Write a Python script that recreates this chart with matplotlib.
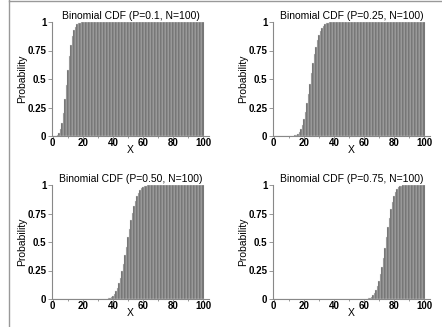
import matplotlib
matplotlib.use("Agg")
import matplotlib.pyplot as plt
from matplotlib.lines import Line2D
import numpy as np

plt.rcParams['font.family'] = ['Liberation Sans', 'DejaVu Sans']

# x values 0..100
x_vals = np.arange(0, 101)

# CDF values (zeros below the rise, ones above it)
cdf_p10 = ([0.0, 0.0003, 0.002, 0.008, 0.024, 0.058, 0.117, 0.206, 0.321, 0.451,
            0.583, 0.703, 0.802, 0.876, 0.927, 0.960, 0.979, 0.990, 0.995, 0.998, 0.999]
           + [1.0] * 80)
cdf_p25 = ([0.0] * 12
           + [0.001, 0.002, 0.005, 0.011, 0.021, 0.038, 0.063, 0.100, 0.149, 0.211,
              0.286, 0.370, 0.460, 0.550, 0.637, 0.716, 0.785, 0.843, 0.890, 0.925,
              0.951, 0.969, 0.981, 0.989, 0.994, 0.997, 0.998, 0.999]
           + [1.0] * 61)
cdf_p50 = ([0.0] * 35
           + [0.002, 0.003, 0.006, 0.010, 0.018, 0.028, 0.044, 0.067, 0.097, 0.136,
              0.184, 0.242, 0.309, 0.382, 0.460, 0.540, 0.618, 0.691, 0.758, 0.816,
              0.864, 0.903, 0.933, 0.956, 0.972, 0.982, 0.990, 0.994, 0.997, 0.998, 0.999]
           + [1.0] * 35)
cdf_p75 = ([0.0] * 60
           + [0.001, 0.002, 0.003, 0.006, 0.011, 0.019, 0.031, 0.049, 0.075, 0.110,
              0.157, 0.215, 0.284, 0.363, 0.450, 0.540, 0.630, 0.714, 0.789, 0.851,
              0.900, 0.937, 0.962, 0.979, 0.989, 0.995, 0.998, 0.999]
           + [1.0] * 13)

titles = ['Binomial CDF (P=0.1, N=100)', 'Binomial CDF (P=0.25, N=100)',
          'Binomial CDF (P=0.50, N=100)', 'Binomial CDF (P=0.75, N=100)']
series = [cdf_p10, cdf_p25, cdf_p50, cdf_p75]

W, H = 442, 327
fig = plt.figure(figsize=(W / 100, H / 100), dpi=100)

# axes boxes in pixels: left, top, right, bottom
boxes = [(52, 22, 209, 136), (273, 22, 430, 136),
         (52, 185, 209, 299), (273, 185, 430, 299)]

for (l, t, r, b), title, y in zip(boxes, titles, series):
    ax = fig.add_axes([l / W, 1 - b / H, (r - l) / W, (b - t) / H])
    ax.bar(x_vals, y, width=1.0, color='#626262', edgecolor='#dddddd', linewidth=0.25)
    ax.set_xlim(-0.5, 104)
    ax.set_ylim(0, 1)
    ax.set_xticks([0, 20, 40, 60, 80, 100])
    ax.set_xticks(np.arange(10, 100, 20), minor=True)
    ax.set_yticks([0, 0.25, 0.5, 0.75, 1])
    ax.set_yticklabels(['0', '0.25', '0.5', '0.75', '1'])
    ax.spines['top'].set_visible(False)
    ax.spines['right'].set_visible(False)
    for s in ('left', 'bottom'):
        ax.spines[s].set_color('#888888')
        ax.spines[s].set_linewidth(0.8)
    ax.tick_params(axis='y', which='major', labelsize=7, length=3, width=0.6,
                   color='#888888', pad=1)
    ax.tick_params(axis='x', which='major', labelsize=7, length=1.5, width=0.6,
                   color='#888888', pad=0)
    ax.tick_params(axis='x', which='minor', length=1.5, width=0.6, color='#888888')
    for lbl in ax.get_xticklabels() + ax.get_yticklabels():
        lbl.set_fontweight('bold')
    ax.set_title(title, fontsize=7.5, pad=2)
    ax.set_xlabel('X', fontsize=7.5, labelpad=-2)
    ax.set_ylabel('Probability', fontsize=7.5, labelpad=0)

# frame lines at left and top of the image
fig.add_artist(Line2D([8.5 / W, 8.5 / W], [0, 1], color='#999999', linewidth=1))
fig.add_artist(Line2D([8.5 / W, 1], [1 - 0.8 / H, 1 - 0.8 / H], color='#999999', linewidth=1))

fig.savefig('out.png', dpi=100)
